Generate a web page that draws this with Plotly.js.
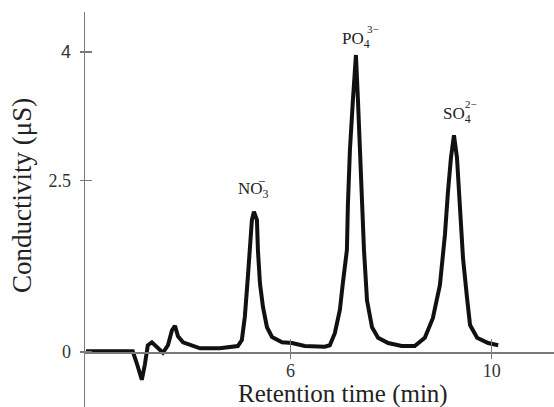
<!DOCTYPE html>
<html>
<head>
<meta charset="utf-8">
<script src="https://cdn.plot.ly/plotly-3.0.1.min.js"></script>
<style>html,body{margin:0;padding:0;background:#fff;}#chart{width:554px;height:407px;}</style>
</head>
<body>
<div id="chart"></div>
<script>
// Retention time (min)
const retentionTime = [1.93, 2.86, 2.94, 3.04, 3.10, 3.16, 3.24, 3.34, 3.46, 3.56, 3.64, 3.70, 3.76, 3.86, 4.04, 4.20, 4.59,
  4.95, 5.03, 5.09, 5.15, 5.19, 5.23, 5.27, 5.33, 5.35, 5.39, 5.45, 5.53, 5.63, 5.83, 6.03, 6.28, 6.68,
  6.78, 6.88, 6.98, 7.04, 7.12, 7.14, 7.18, 7.24, 7.30, 7.34, 7.38, 7.42, 7.46, 7.52, 7.58, 7.62, 7.74, 7.94, 8.21, 8.47,
  8.67, 8.83, 8.97, 9.07, 9.13, 9.19, 9.25, 9.31, 9.37, 9.43, 9.51, 9.57, 9.71, 9.93, 10.13];
// Conductivity (as drawn on the picture's vertical scale)
const conductivity = [0.01, 0.01, -0.15, -0.37, -0.17, 0.09, 0.13, 0.07, -0.01, 0.09, 0.29, 0.35, 0.21, 0.13, 0.08, 0.05, 0.05,
  0.08, 0.16, 0.47, 1.00, 1.36, 1.76, 1.87, 1.76, 1.36, 0.92, 0.60, 0.33, 0.20, 0.13, 0.12, 0.08, 0.07,
  0.09, 0.25, 0.56, 0.92, 1.36, 1.96, 2.69, 3.36, 3.96, 3.36, 2.69, 1.96, 1.36, 0.69, 0.45, 0.33, 0.19, 0.12, 0.08, 0.08,
  0.19, 0.45, 0.89, 1.56, 2.13, 2.59, 2.89, 2.59, 1.92, 1.25, 0.72, 0.36, 0.19, 0.12, 0.09];

const xTickVals = [6, 10];
const xTickText = ['6', '10'];
const yTickVals = [0, 2.284, 4];
const yTickText = ['0', '2.5', '<span style="font-family:Liberation Sans, Arial, sans-serif">4</span>'];

const serif = '"Liberation Serif", "Times New Roman", Times, serif';
const axisGray = '#7a7a7a';
const xAxisPos = 55 / 395;

const trace = {
  x: retentionTime, y: conductivity, type: 'scatter', mode: 'lines',
  line: {color: '#111', width: 4}, hoverinfo: 'skip', showlegend: false
};

const layout = {
  width: 554, height: 407,
  margin: {l: 85, r: 0, t: 12, b: 0},
  paper_bgcolor: '#fff', plot_bgcolor: '#fff',
  font: {family: serif, color: '#222'},
  showlegend: false,
  xaxis: {
    range: [1.91, 11.24], anchor: 'free', position: xAxisPos,
    showline: true, linecolor: axisGray, linewidth: 1.5,
    showgrid: false, zeroline: false,
    tickvals: xTickVals, ticktext: xTickText,
    ticks: 'inside', ticklen: 13, tickwidth: 1.3, tickcolor: axisGray,
    ticklabelstandoff: 2,
    tickfont: {family: serif, size: 18, color: '#333'}
  },
  xaxis2: {
    range: [1.91, 11.24], overlaying: 'x', anchor: 'free', position: xAxisPos,
    showline: false, showgrid: false, zeroline: false, showticklabels: false,
    tickvals: xTickVals, ticks: 'outside', ticklen: 6, tickwidth: 1.3, tickcolor: axisGray
  },
  yaxis: {
    range: [-0.733, 4.533],
    showline: true, linecolor: axisGray, linewidth: 1.5,
    showgrid: false, zeroline: false,
    tickvals: yTickVals, ticktext: yTickText,
    ticks: 'inside', ticklen: 7, tickwidth: 1.3, tickcolor: axisGray,
    ticklabelstandoff: 9,
    tickfont: {family: serif, size: 18, color: '#333'}
  },
  yaxis2: {
    range: [-0.733, 4.533], overlaying: 'y', anchor: 'x',
    showline: false, showgrid: false, zeroline: false, showticklabels: false,
    tickvals: yTickVals, ticks: 'outside', ticklen: 4, tickwidth: 1.3, tickcolor: axisGray
  },
  annotations: [
    {xref: 'paper', yref: 'paper', x: (343 - 85) / 469, y: (407 - 394) / 395, xanchor: 'center', yanchor: 'middle',
     text: 'Retention time (min)', showarrow: false, font: {family: serif, size: 25, color: '#222'}},
    {xref: 'paper', yref: 'paper', x: (22 - 85) / 469, y: (407 - 196) / 395, xanchor: 'center', yanchor: 'middle',
     textangle: -90, text: 'Conductivity (μS)', showarrow: false, font: {family: serif, size: 27, color: '#222'}},
    // ion labels
    {xref: 'x', yref: 'y', x: 4.91, y: 1.99, xanchor: 'left', yanchor: 'bottom', showarrow: false,
     text: 'NO<sub>3</sub>', font: {family: serif, size: 17, color: '#222'}},
    {xref: 'x', yref: 'y', x: 5.43, y: 2.28, xanchor: 'center', yanchor: 'middle', showarrow: false,
     text: '−', font: {family: serif, size: 13, color: '#222'}},
    {xref: 'x', yref: 'y', x: 6.98, y: 3.99, xanchor: 'left', yanchor: 'bottom', showarrow: false,
     text: 'PO<sub>4</sub>', font: {family: serif, size: 17, color: '#222'}},
    {xref: 'x', yref: 'y', x: 7.48, y: 4.30, xanchor: 'left', yanchor: 'middle', showarrow: false,
     text: '3−', font: {family: serif, size: 11, color: '#222'}},
    {xref: 'x', yref: 'y', x: 8.99, y: 2.99, xanchor: 'left', yanchor: 'bottom', showarrow: false,
     text: 'SO<sub>4</sub>', font: {family: serif, size: 17, color: '#222'}},
    {xref: 'x', yref: 'y', x: 9.43, y: 3.30, xanchor: 'left', yanchor: 'middle', showarrow: false,
     text: '2−', font: {family: serif, size: 11, color: '#222'}}
  ]
};

const trace2 = {x: [], y: [], xaxis: 'x2', yaxis: 'y2', type: 'scatter', showlegend: false, hoverinfo: 'skip'};

Plotly.newPlot('chart', [trace, trace2], layout, {staticPlot: true, displayModeBar: false});
</script>
</body>
</html>
